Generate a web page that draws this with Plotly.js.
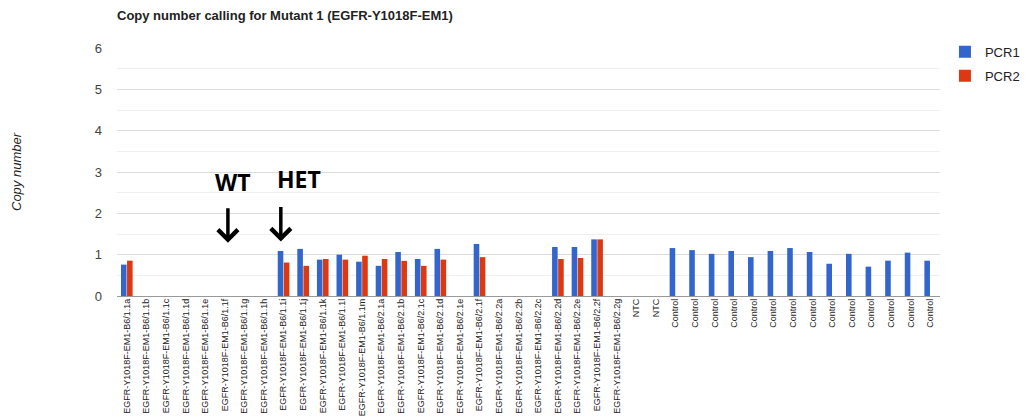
<!DOCTYPE html>
<html>
<head>
<meta charset="utf-8">
<script src="https://cdn.plot.ly/plotly-3.0.1.min.js"></script>
<style>
html,body{margin:0;padding:0;background:#fff;}
#chart{width:1027px;height:417px;}
</style>
</head>
<body>
<div id="chart"></div>
<script>
const categories = [
  "EGFR-Y1018F-EM1-B6/1.1a","EGFR-Y1018F-EM1-B6/1.1b","EGFR-Y1018F-EM1-B6/1.1c","EGFR-Y1018F-EM1-B6/1.1d",
  "EGFR-Y1018F-EM1-B6/1.1e","EGFR-Y1018F-EM1-B6/1.1f","EGFR-Y1018F-EM1-B6/1.1g","EGFR-Y1018F-EM1-B6/1.1h",
  "EGFR-Y1018F-EM1-B6/1.1i","EGFR-Y1018F-EM1-B6/1.1j","EGFR-Y1018F-EM1-B6/1.1k","EGFR-Y1018F-EM1-B6/1.1l",
  "EGFR-Y1018F-EM1-B6/1.1m",
  "EGFR-Y1018F-EM1-B6/2.1a","EGFR-Y1018F-EM1-B6/2.1b","EGFR-Y1018F-EM1-B6/2.1c","EGFR-Y1018F-EM1-B6/2.1d",
  "EGFR-Y1018F-EM1-B6/2.1e","EGFR-Y1018F-EM1-B6/2.1f",
  "EGFR-Y1018F-EM1-B6/2.2a","EGFR-Y1018F-EM1-B6/2.2b","EGFR-Y1018F-EM1-B6/2.2c","EGFR-Y1018F-EM1-B6/2.2d",
  "EGFR-Y1018F-EM1-B6/2.2e","EGFR-Y1018F-EM1-B6/2.2f","EGFR-Y1018F-EM1-B6/2.2g",
  "NTC","NTC",
  "Control","Control","Control","Control","Control","Control","Control",
  "Control","Control","Control","Control","Control","Control","Control"
];
const pcr1 = [
  0.76,0,0,0,0,0,0,0,1.09,1.14,0.88,1.00,0.83,
  0.73,1.065,0.895,1.14,0,1.26,
  0,0,0,1.185,1.185,1.37,0,
  0,0,
  1.16,1.11,1.02,1.09,0.94,1.09,1.16,1.065,0.78,1.02,0.71,0.855,1.05,0.855
];
const pcr2 = [
  0.855,0,0,0,0,0,0,0,0.81,0.73,0.895,0.88,0.975,
  0.895,0.85,0.73,0.88,0,0.94,
  0,0,0,0.895,0.92,1.37,0,
  0,0,
  null,null,null,null,null,null,null,null,null,null,null,null,null,null
];
const seriesNames = ["PCR1","PCR2"];
const yTicks = [0,1,2,3,4,5,6];

const xIdx = categories.map((c,i)=>i);
const FONT = "Liberation Sans, Arial, sans-serif";

const traces = [
  {type:"bar", name:seriesNames[0], legendgroup:"a", x:xIdx, y:pcr1, marker:{color:"#3366cc"}, hoverinfo:"y"},
  {type:"bar", name:seriesNames[1], legendgroup:"b", x:xIdx, y:pcr2, marker:{color:"#dc3912"}, hoverinfo:"y"}
];

const layout = {
  width:1027, height:417,
  margin:{l:117, r:87, t:48, b:121, pad:0, autoexpand:false},
  paper_bgcolor:"#fff", plot_bgcolor:"#fff",
  barmode:"group", bargap:0.38, bargroupgap:0.08,
  title:{text:"<b>Copy number calling for Mutant 1 (EGFR-Y1018F-EM1)</b>", x:117/1027, xanchor:"left", y:0.962, yanchor:"middle", font:{family:FONT, size:13, color:"#222"}},
  font:{family:FONT, color:"#222"},
  xaxis:{
    range:[-0.5, categories.length-0.5],
    tickvals:xIdx, ticktext:categories, tickangle:-90,
    tickfont:{family:FONT, size:9, color:"#222"},
    showgrid:false, zeroline:false, showline:false, ticks:"", ticklen:0,
    fixedrange:true, automargin:false
  },
  yaxis:{
    range:[0,6], tickvals:yTicks,
    tickfont:{family:FONT, size:13, color:"#444"},
    showgrid:true, gridcolor:"#dcdcdc", gridwidth:1,
    minor:{dtick:0.5, tick0:0, showgrid:true, gridcolor:"#f0f0f0", gridwidth:1},
    zeroline:true, zerolinecolor:"#999", zerolinewidth:1,
    ticks:"", ticklabelstandoff:14,
    title:{text:"<i>Copy number</i>", font:{family:FONT, size:13, color:"#222"}, standoff:70},
    fixedrange:true, automargin:false
  },
  legend:{x:1.006, y:1.045, xanchor:"left", yanchor:"top", traceorder:"grouped", font:{family:FONT, size:13, color:"#222"}, itemwidth:30, tracegroupgap:4, bgcolor:"rgba(0,0,0,0)"},
  showlegend:true,
  annotations:[
    {x:5.41, y:2.75, xref:"x", yref:"y", text:"<b>WT</b>", showarrow:false, font:{family:"Open Sans, sans-serif", size:23, color:"#000"}},
    {x:8.77, y:2.82, xref:"x", yref:"y", text:"<b>HET</b>", showarrow:false, font:{family:"Open Sans, sans-serif", size:23, color:"#000"}},
    {x:5.16, y:1.29, xref:"x", yref:"y", text:"", showarrow:true, ax:0, ay:-36, arrowhead:4, arrowwidth:3.5, arrowsize:1.1, arrowcolor:"#000", standoff:0},
    {x:7.86, y:1.32, xref:"x", yref:"y", text:"", showarrow:true, ax:0, ay:-36, arrowhead:4, arrowwidth:3.5, arrowsize:1.1, arrowcolor:"#000", standoff:0}
  ]
};

Plotly.newPlot("chart", traces, layout, {displayModeBar:false, staticPlot:true});
</script>
</body>
</html>
